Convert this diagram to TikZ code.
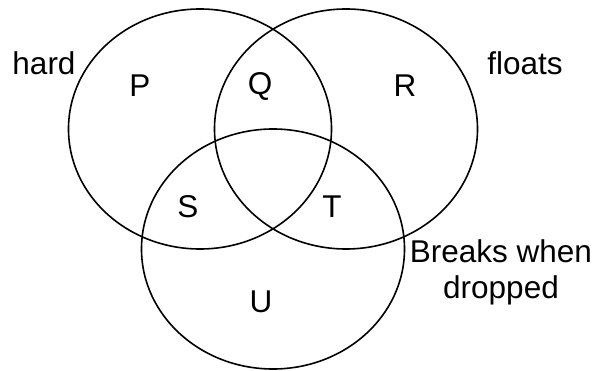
\documentclass[tikz,border=0pt]{standalone}
\usepackage{fontspec}
\setmainfont{Liberation Sans}
\usepackage{tikz}
\usetikzlibrary{positioning, shapes.geometric}
\definecolor{vnBlack}{RGB}{0, 0, 0}
\tikzset{
    base/.style={
        font=\fontsize{31.5}{36}\selectfont,
        align=center,
        text=vnBlack
    },
    setring/.style={
        ellipse,
        draw=vnBlack,
        line width=1.6pt,
        inner sep=0pt,
        minimum width=263pt,
        minimum height=240pt
    },
    region/.style={
        base,
        inner sep=0pt
    },
    setname/.style={
        base,
        inner sep=1pt
    }
}

\begin{document}
\begin{tikzpicture}[x=1pt, y=-1pt]
  \useasboundingbox (0,0) rectangle (596,371);

  % Sets
  \node[setring] (hardset) at (200,129) {};
  \node[setring] (floatset) at (346,129) {};
  \node[setring] (breakset) at (273,249) {};

  % Set names
  \node[setname] (hardlbl) at (44,63) {hard};
  \node[setname] (floatlbl) at (525,63) {floats};
  \node[setname] (breaklbl) at (501,272) {Breaks when\\dropped};

  % Regions
  \node[region] (P) at (140,86) {P};
  \node[region] (Q) at (260,86) {Q};
  \node[region] (R) at (405,86) {R};
  \node[region] (S) at (188,207) {S};
  \node[region] (T) at (332,207) {T};
  \node[region] (U) at (261,302) {U};
\end{tikzpicture}
\end{document}
